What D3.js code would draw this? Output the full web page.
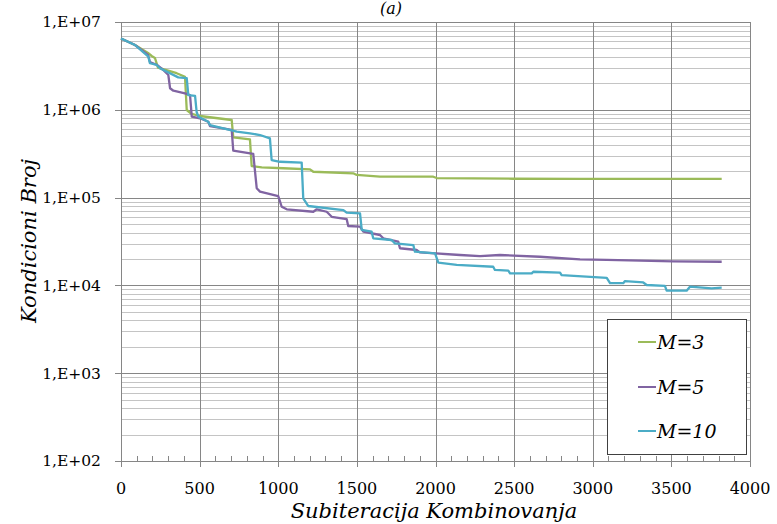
<!DOCTYPE html>
<html>
<head>
<meta charset="utf-8">
<script src="https://cdn.jsdelivr.net/npm/d3@7"></script>
<style>
  html, body { margin: 0; padding: 0; background: #fff; }
  svg { display: block; }
</style>
</head>
<body>
<svg id="chart" width="777" height="524"></svg>
<script>
// ---- Data ----
const seriesNames = ["M=3", "M=5", "M=10"];
const seriesColors = ["#9BBB59", "#8064A2", "#4BACC6"];

const m3X = [0, 89, 172, 195, 216, 235, 354, 407, 418, 450, 502, 704, 714, 820, 831, 895, 1032, 1202, 1223, 1477, 1499, 1647, 1986, 2008, 2495, 2919, 3820];
const m3Y = [6.5e6, 5.47e6, 4.44e6, 4.10e6, 3.89e6, 3.02e6, 2.61e6, 2.38e6, 9.95e5, 8.96e5, 8.50e5, 7.65e5, 4.86e5, 4.61e5, 2.29e5, 2.21e5, 2.16e5, 2.10e5, 1.97e5, 1.89e5, 1.81e5, 1.73e5, 1.73e5, 1.67e5, 1.64e5, 1.63e5, 1.63e5];

const m5X = [0, 89, 172, 184, 229, 269, 301, 312, 333, 407, 439, 450, 502, 555, 566, 704, 714, 841, 863, 884, 1000, 1022, 1054, 1223, 1245, 1308, 1340, 1435, 1445, 1520, 1541, 1647, 1668, 1763, 1774, 1880, 1901, 2156, 2283, 2410, 2664, 2919, 3089, 3512, 3820];
const m5Y = [6.5e6, 5.47e6, 4.21e6, 3.50e6, 3.24e6, 2.84e6, 2.49e6, 1.76e6, 1.65e6, 1.54e6, 1.47e6, 8.35e5, 8.00e5, 7.31e5, 6.53e5, 5.89e5, 3.42e5, 3.14e5, 1.28e5, 1.17e5, 1.04e5, 7.87e4, 7.36e4, 6.90e4, 7.36e4, 6.90e4, 6.05e4, 5.70e4, 4.75e4, 4.67e4, 4.09e4, 3.75e4, 3.44e4, 3.15e4, 2.65e4, 2.53e4, 2.38e4, 2.22e4, 2.16e4, 2.22e4, 2.12e4, 1.98e4, 1.95e4, 1.88e4, 1.86e4];

const m10X = [0, 89, 174, 184, 227, 248, 364, 418, 428, 471, 481, 492, 555, 566, 736, 820, 884, 947, 958, 1011, 1149, 1159, 1191, 1414, 1435, 1520, 1531, 1594, 1604, 1721, 1742, 1859, 1869, 1997, 2018, 2135, 2367, 2378, 2463, 2474, 2612, 2622, 2792, 2802, 3089, 3110, 3194, 3205, 3321, 3343, 3459, 3470, 3597, 3618, 3756, 3820];
const m10Y = [6.5e6, 5.47e6, 4.03e6, 3.39e6, 3.24e6, 2.97e6, 2.34e6, 2.29e6, 1.47e6, 1.44e6, 9.44e5, 8.35e5, 7.31e5, 6.71e5, 5.64e5, 5.40e5, 5.16e5, 4.73e5, 2.68e5, 2.56e5, 2.50e5, 9.82e4, 8.02e4, 7.22e4, 6.73e4, 6.62e4, 4.28e4, 4.09e4, 3.44e4, 3.29e4, 3.01e4, 2.88e4, 2.42e4, 2.32e4, 1.82e4, 1.71e4, 1.63e4, 1.50e4, 1.47e4, 1.37e4, 1.37e4, 1.43e4, 1.40e4, 1.31e4, 1.22e4, 1.06e4, 1.06e4, 1.12e4, 1.08e4, 1.01e4, 9.9e3, 8.7e3, 8.7e3, 9.67e3, 9.27e3, 9.42e3];

const xTicks = [0, 500, 1000, 1500, 2000, 2500, 3000, 3500, 4000];
const yTicks = [1e2, 1e3, 1e4, 1e5, 1e6, 1e7];
const yTickLabels = ["1,E+02", "1,E+03", "1,E+04", "1,E+05", "1,E+06", "1,E+07"];
const titleText = "(a)";
const xTitle = "Subiteracija Kombinovanja";
const yTitle = "Kondicioni Broj";

// ---- Layout ----
const svg = d3.select("#chart");
const plot = { left: 121, right: 750, top: 22, bottom: 461 };
const x = d3.scaleLinear().domain([0, 4000]).range([plot.left, plot.right]);
const y = d3.scaleLog().domain([1e2, 1e7]).range([plot.bottom, plot.top]);

const tickFont = "'DejaVu Serif', serif";
const majorColor = "#868686";
const minorColor = "#c4c4c4";

// minor horizontal gridlines
const minorVals = [];
for (let e = 2; e < 7; e++) for (let k = 2; k <= 9; k++) minorVals.push(k * Math.pow(10, e));
svg.append("g").selectAll("line").data(minorVals).join("line")
  .attr("x1", plot.left).attr("x2", plot.right)
  .attr("y1", d => Math.round(y(d)) + 0.5).attr("y2", d => Math.round(y(d)) + 0.5)
  .attr("stroke", minorColor).attr("stroke-width", 1);

// major horizontal gridlines
svg.append("g").selectAll("line").data(yTicks).join("line")
  .attr("x1", plot.left - 6).attr("x2", plot.right)
  .attr("y1", d => Math.round(y(d)) + 0.5).attr("y2", d => Math.round(y(d)) + 0.5)
  .attr("stroke", majorColor).attr("stroke-width", 1);

// vertical gridlines
svg.append("g").selectAll("line").data(xTicks).join("line")
  .attr("x1", d => Math.round(x(d)) + 0.5).attr("x2", d => Math.round(x(d)) + 0.5)
  .attr("y1", plot.top).attr("y2", plot.bottom + 6)
  .attr("stroke", majorColor).attr("stroke-width", 1);

// minor x ticks (every 100, pointing up)
const minorX = d3.range(100, 4000, 100).filter(v => v % 500 !== 0);
svg.append("g").selectAll("line").data(minorX).join("line")
  .attr("x1", d => Math.round(x(d)) + 0.5).attr("x2", d => Math.round(x(d)) + 0.5)
  .attr("y1", plot.bottom - 5).attr("y2", plot.bottom)
  .attr("stroke", majorColor).attr("stroke-width", 1);

// y tick labels
svg.append("g").selectAll("text").data(yTicks).join("text")
  .attr("x", 101).attr("y", d => y(d))
  .attr("dy", "0.35em")
  .attr("text-anchor", "end")
  .attr("font-family", tickFont).attr("font-size", 15.5).attr("fill", "#000")
  .text((d, i) => yTickLabels[i]);

// x tick labels
svg.append("g").selectAll("text").data(xTicks).join("text")
  .attr("x", d => x(d)).attr("y", 494)
  .attr("text-anchor", "middle")
  .attr("font-family", tickFont).attr("font-size", 16).attr("fill", "#000")
  .text(d => d);

// series
const series = [
  { name: seriesNames[0], color: seriesColors[0], xs: m3X, ys: m3Y },
  { name: seriesNames[1], color: seriesColors[1], xs: m5X, ys: m5Y },
  { name: seriesNames[2], color: seriesColors[2], xs: m10X, ys: m10Y }
];
const line = d3.line().x(d => x(d[0])).y(d => y(d[1]));
series.forEach(s => {
  svg.append("path")
    .datum(s.xs.map((v, i) => [v, s.ys[i]]))
    .attr("d", line)
    .attr("fill", "none")
    .attr("stroke", s.color)
    .attr("stroke-width", 2.3)
    .attr("stroke-linejoin", "round");
});

// legend
const lg = svg.append("g");
lg.append("rect").attr("x", 607.5).attr("y", 319.5).attr("width", 139).attr("height", 135)
  .attr("fill", "#fff").attr("stroke", "#404040").attr("stroke-width", 1);
const legendRows = [342, 387, 431];
series.forEach((s, i) => {
  lg.append("line").attr("x1", 638).attr("x2", 656)
    .attr("y1", legendRows[i]).attr("y2", legendRows[i])
    .attr("stroke", s.color).attr("stroke-width", 2);
  lg.append("text").attr("x", 657).attr("y", legendRows[i] + 7)
    .attr("font-family", tickFont).attr("font-style", "italic").attr("font-size", 19)
    .attr("fill", "#000").text(s.name);
});

// titles
svg.append("text").attr("x", 434).attr("y", 518).attr("text-anchor", "middle")
  .attr("font-family", tickFont).attr("font-style", "italic").attr("font-size", 21)
  .attr("fill", "#000").text(xTitle);
svg.append("text").attr("transform", "translate(36,241) rotate(-90)")
  .attr("text-anchor", "middle")
  .attr("font-family", tickFont).attr("font-style", "italic").attr("font-size", 21)
  .attr("fill", "#000").text(yTitle);
svg.append("text").attr("x", 391).attr("y", 14).attr("text-anchor", "middle")
  .attr("font-family", tickFont).attr("font-style", "italic").attr("font-size", 16)
  .attr("fill", "#000").text(titleText);
</script>
</body>
</html>
